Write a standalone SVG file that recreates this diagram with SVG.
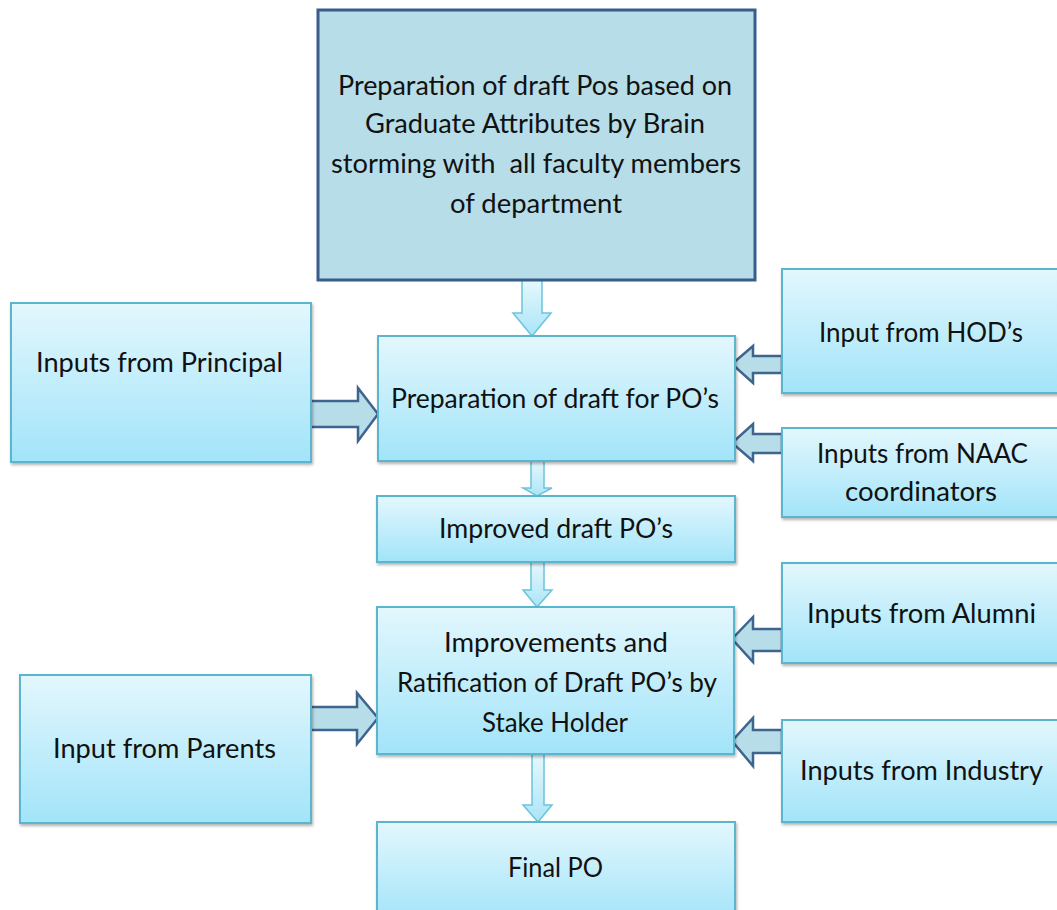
<svg xmlns="http://www.w3.org/2000/svg" width="1057" height="910" viewBox="0 0 1057 910">
<defs>
<linearGradient id="boxg" x1="0" y1="0" x2="0" y2="1">
<stop offset="0" stop-color="#E3F7FD"/>
<stop offset="1" stop-color="#A2E4F9"/>
</linearGradient>
<linearGradient id="arrg" x1="0" y1="0" x2="0" y2="1">
<stop offset="0" stop-color="#E6F8FD"/>
<stop offset="1" stop-color="#A9E5F8"/>
</linearGradient>
<filter id="sh" x="-5%" y="-5%" width="110%" height="115%">
<feDropShadow dx="1" dy="2" stdDeviation="1.5" flood-color="#000" flood-opacity="0.3"/>
</filter>
<style>
.box{fill:url(#boxg);stroke:#5BB5CF;stroke-width:2;filter:url(#sh)}
.top{fill:#B7DDE8;stroke:#385D8A;stroke-width:3}
.t{font-family:Lato,"Liberation Sans",sans-serif;font-size:26px;fill:#111;text-anchor:middle}
.sa{fill:#B7DDE8;stroke:#3E6490;stroke-width:2.5;stroke-linejoin:miter}
.da{fill:url(#arrg);stroke:#6CC4DD;stroke-width:1.5}
</style>
</defs>
<rect width="1057" height="910" fill="#fff"/>

<g id="connectors">
<polygon class="da" points="522,280 542,280 542,313 551,313 532,336 513,313 522,313"/>
<polygon class="da" points="531,461 544,461 544,488 552,488 537,496 523,488 531,488"/>
<polygon class="da" points="531,562 544,562 544,590 552,590 537,607 523,590 531,590"/>
<polygon class="da" points="532,754 544,754 544,805 552,805 538,822 523,805 532,805"/>
<polygon class="sa" points="309,401 358,401 358,388 378,414 358,441 358,427 309,427"/>
<polygon class="sa" points="309,707 357,707 357,693 378,718 357,744 357,730 309,730"/>
<polygon class="sa" points="782,356 753,356 753,346 732,364 753,383 753,373 782,373"/>
<polygon class="sa" points="782,434 753,434 753,424 732,443 753,461 753,453 782,453"/>
<polygon class="sa" points="782,629 753,629 753,617 732,639 753,662 753,651 782,651"/>
<polygon class="sa" points="782,730 753,730 753,718 732,741 753,766 753,753 782,753"/>
</g>

<g id="node-top">
<rect class="top" x="318" y="10" width="437" height="270"/>
<text class="t" x="535" y="95" textLength="394" lengthAdjust="spacingAndGlyphs">Preparation of draft Pos based on</text>
<text class="t" x="535" y="133" textLength="340" lengthAdjust="spacingAndGlyphs">Graduate Attributes by Brain</text>
<text class="t" x="536" y="173" textLength="410" lengthAdjust="spacingAndGlyphs" xml:space="preserve">storming with  all faculty members</text>
<text class="t" x="536" y="213" textLength="172" lengthAdjust="spacingAndGlyphs">of department</text>
</g>

<g id="node-draft">
<rect class="box" x="378" y="336" width="357" height="125"/>
<text class="t" x="555" y="408" textLength="328" lengthAdjust="spacingAndGlyphs">Preparation of draft for PO’s</text>
</g>

<g id="node-principal">
<rect class="box" x="11" y="303" width="300" height="159"/>
<text class="t" x="159.5" y="372" textLength="247" lengthAdjust="spacingAndGlyphs">Inputs from Principal</text>
</g>

<g id="node-hod">
<rect class="box" x="782" y="269" width="290" height="124"/>
<text class="t" x="921" y="342" textLength="204" lengthAdjust="spacingAndGlyphs">Input from HOD’s</text>
</g>

<g id="node-naac">
<rect class="box" x="782" y="428" width="290" height="89"/>
<text class="t" x="922.5" y="463" textLength="211" lengthAdjust="spacingAndGlyphs">Inputs from NAAC</text>
<text class="t" x="921" y="501" textLength="152" lengthAdjust="spacingAndGlyphs">coordinators</text>
</g>

<g id="node-improved">
<rect class="box" x="377" y="496" width="358" height="66"/>
<text class="t" x="556" y="538" textLength="234" lengthAdjust="spacingAndGlyphs">Improved draft PO’s</text>
</g>

<g id="node-ratification">
<rect class="box" x="377" y="607" width="357" height="147"/>
<text class="t" x="556" y="652" textLength="224" lengthAdjust="spacingAndGlyphs">Improvements and</text>
<text class="t" x="557" y="692" textLength="320" lengthAdjust="spacingAndGlyphs">Ratification of Draft PO’s by</text>
<text class="t" x="555" y="732" textLength="146" lengthAdjust="spacingAndGlyphs">Stake Holder</text>
</g>

<g id="node-parents">
<rect class="box" x="20" y="675" width="291" height="148"/>
<text class="t" x="164.5" y="758" textLength="223" lengthAdjust="spacingAndGlyphs">Input from Parents</text>
</g>

<g id="node-alumni">
<rect class="box" x="782" y="563" width="290" height="100"/>
<text class="t" x="921.5" y="623" textLength="229" lengthAdjust="spacingAndGlyphs">Inputs from Alumni</text>
</g>

<g id="node-industry">
<rect class="box" x="782" y="720" width="290" height="102"/>
<text class="t" x="921.5" y="780" textLength="243" lengthAdjust="spacingAndGlyphs">Inputs from Industry</text>
</g>

<g id="node-final">
<rect class="box" x="377" y="822" width="358" height="100"/>
<text class="t" x="555.5" y="877" textLength="95" lengthAdjust="spacingAndGlyphs">Final PO</text>
</g>
</svg>
